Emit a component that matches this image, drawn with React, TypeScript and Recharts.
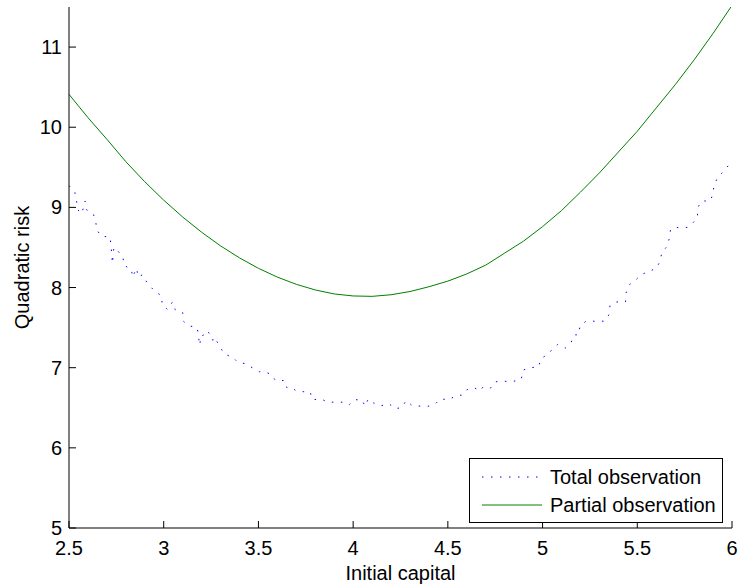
import React from "react";
import { LineChart, Line, XAxis, YAxis, Legend } from "recharts";

const FONT = '"Liberation Sans", Arial, Helvetica, sans-serif';
const FS = 20;

const xTicks = [2.5, 3, 3.5, 4, 4.5, 5, 5.5, 6];
const yTicks = [5, 6, 7, 8, 9, 10, 11];

// Partial observation (smooth curve)
const partialX = [
  2.5, 2.6, 2.7, 2.8, 2.9, 3.0, 3.1, 3.2, 3.3, 3.4, 3.5, 3.6, 3.7, 3.8, 3.9, 4.0, 4.1, 4.2,
  4.3, 4.4, 4.5, 4.6, 4.7, 4.8, 4.9, 5.0, 5.1, 5.2, 5.3, 5.4, 5.5, 5.6, 5.7, 5.8, 5.9, 6.0,
];
const partialY = [
  10.41, 10.12, 9.85, 9.57, 9.32, 9.09, 8.88, 8.69, 8.52, 8.37, 8.24, 8.13, 8.04, 7.97, 7.92,
  7.895, 7.89, 7.91, 7.95, 8.01, 8.08, 8.17, 8.28, 8.43, 8.58, 8.76, 8.96, 9.19, 9.43, 9.69,
  9.95, 10.24, 10.53, 10.84, 11.17, 11.52,
];

// Total observation (noisy curve)
const totalX = [
  2.5, 2.53, 2.54, 2.545, 2.566, 2.58, 2.585, 2.593, 2.628, 2.64, 2.647, 2.67, 2.717, 2.722,
  2.726, 2.729, 2.737, 2.76, 2.785, 2.79, 2.83, 2.835, 2.857, 2.865, 2.888, 2.91, 2.93, 2.96,
  2.988, 2.992, 3.02, 3.046, 3.06, 3.1, 3.104, 3.13, 3.177, 3.19, 3.196, 3.2, 3.22, 3.256,
  3.262, 3.28, 3.32, 3.365, 3.39, 3.43, 3.467, 3.505, 3.527, 3.567, 3.59, 3.638, 3.65, 3.676,
  3.7, 3.74, 3.773, 3.785, 3.83, 3.867, 3.917, 3.963, 3.98, 4.005, 4.046, 4.063, 4.08, 4.108,
  4.147, 4.19, 4.22, 4.256, 4.28, 4.31, 4.355, 4.4, 4.435, 4.46, 4.507, 4.54, 4.58, 4.607,
  4.643, 4.67, 4.686, 4.725, 4.75, 4.8, 4.845, 4.887, 4.897, 4.935, 4.98, 4.99, 5.03, 5.055,
  5.08, 5.12, 5.15, 5.167, 5.19, 5.198, 5.23, 5.28, 5.328, 5.35, 5.356, 5.39, 5.438, 5.44,
  5.46, 5.49, 5.52, 5.56, 5.6, 5.62, 5.63, 5.656, 5.67, 5.676, 5.716, 5.765, 5.795, 5.817,
  5.82, 5.84, 5.885, 5.9, 5.905, 5.926, 5.957, 5.98, 6.0,
];
const totalY = [
  9.27, 9.2, 9.08, 8.975, 8.92, 9.02, 9.08, 8.97, 8.92, 8.84, 8.72, 8.64, 8.63, 8.52, 8.4,
  8.3, 8.5, 8.45, 8.38, 8.275, 8.23, 8.13, 8.24, 8.13, 8.16, 8.07, 8.01, 7.94, 7.9, 7.79,
  7.725, 7.82, 7.725, 7.69, 7.58, 7.525, 7.5, 7.28, 7.38, 7.37, 7.46, 7.41, 7.3, 7.33, 7.17,
  7.13, 7.07, 7.05, 7.0, 6.95, 6.95, 6.92, 6.84, 6.84, 6.75, 6.75, 6.71, 6.7, 6.7, 6.6, 6.61,
  6.57, 6.57, 6.57, 6.54, 6.6, 6.6, 6.52, 6.61, 6.56, 6.525, 6.55, 6.49, 6.5, 6.59, 6.53,
  6.52, 6.52, 6.55, 6.61, 6.6, 6.65, 6.66, 6.74, 6.745, 6.71, 6.76, 6.745, 6.825, 6.83, 6.83,
  6.85, 6.97, 7.0, 7.01, 7.11, 7.17, 7.24, 7.29, 7.245, 7.31, 7.41, 7.41, 7.525, 7.58, 7.58,
  7.58, 7.66, 7.775, 7.82, 7.82, 7.93, 8.04, 8.09, 8.16, 8.2, 8.24, 8.325, 8.44, 8.51, 8.62,
  8.73, 8.75, 8.75, 8.81, 8.87, 9.0, 9.08, 9.08, 9.17, 9.28, 9.38, 9.45, 9.52, 9.55,
];

const partialData = partialX.map((x, i) => ({ x, y: partialY[i] }));
const totalData = totalX.map((x, i) => ({ x, y: totalY[i] }));

const BLUE = "#0000ff";
const GREEN = "#008000";
const DOTS = "1.5 7.5";

const textProps = { fontFamily: FONT, fontSize: FS, fill: "#000" };

function BottomTick({ x, y, payload }: any) {
  return (
    <g>
      <line x1={x} x2={x} y1={y} y2={y - 7} stroke="#000" />
      <text x={x} y={y + 20} textAnchor="middle" dominantBaseline="central" {...textProps}>
        {payload.value}
      </text>
    </g>
  );
}

function TopTick({ x, y }: any) {
  return <line x1={x} x2={x} y1={y} y2={y + 7} stroke="#000" />;
}

function LeftTick({ x, y, payload }: any) {
  return (
    <g>
      <line x1={x} x2={x + 7} y1={y} y2={y} stroke="#000" />
      <text x={x - 7} y={y} textAnchor="end" dominantBaseline="central" {...textProps}>
        {payload.value}
      </text>
    </g>
  );
}

function RightTick({ x, y }: any) {
  return <line x1={x} x2={x - 7} y1={y} y2={y} stroke="#000" />;
}

function LegendBox() {
  const rows = [
    { name: "Total observation", color: BLUE, dash: DOTS },
    { name: "Partial observation", color: GREEN, dash: undefined },
  ];
  return (
    <div
      style={{
        width: 254,
        height: 65,
        boxSizing: "border-box",
        border: "1px solid #000",
        background: "#fff",
        padding: "4px 0 0 12px",
        fontFamily: FONT,
        fontSize: FS,
        color: "#000",
      }}
    >
      {rows.map((r) => (
        <div key={r.name} style={{ display: "flex", alignItems: "center", height: 28 }}>
          <svg width={60} height={10} style={{ marginRight: 8 }}>
            <line x1={0} x2={60} y1={5} y2={5} stroke={r.color} strokeDasharray={r.dash} />
          </svg>
          <span style={{ lineHeight: "28px" }}>{r.name}</span>
        </div>
      ))}
    </div>
  );
}

export default function App() {
  return (
    <div style={{ position: "absolute", left: 0, top: 0, width: 740, height: 585, background: "#fff" }}>
      <LineChart width={740} height={585} margin={{ top: 7, right: 8, bottom: 0, left: 0 }}>
        <XAxis
          dataKey="x"
          type="number"
          domain={[2.5, 6]}
          ticks={xTicks}
          height={57}
          tickSize={0}
          tickMargin={0}
          tickLine={false}
          axisLine={{ stroke: "#000" }}
          tick={(p: any) => <BottomTick {...p} />}
          interval={0}
          label={{
            content: ({ viewBox }: any) => (
              <text
                x={viewBox.x + viewBox.width / 2}
                y={viewBox.y + 45}
                textAnchor="middle"
                dominantBaseline="central"
                {...textProps}
              >
                Initial capital
              </text>
            ),
          }}
        />
        <XAxis
          xAxisId="top"
          orientation="top"
          type="number"
          domain={[2.5, 6]}
          ticks={xTicks}
          height={0}
          tickSize={0}
          tickMargin={0}
          tickLine={false}
          axisLine={{ stroke: "#000" }}
          tick={(p: any) => <TopTick {...p} />}
          interval={0}
        />
        <YAxis
          type="number"
          domain={[5, 11.5]}
          ticks={yTicks}
          width={69}
          tickSize={0}
          tickMargin={0}
          tickLine={false}
          axisLine={{ stroke: "#000" }}
          tick={(p: any) => <LeftTick {...p} />}
          interval={0}
          allowDataOverflow
          label={{
            content: ({ viewBox }: any) => {
              const cx = viewBox.x + 22;
              const cy = viewBox.y + viewBox.height / 2;
              return (
                <text
                  x={cx}
                  y={cy}
                  textAnchor="middle"
                  dominantBaseline="central"
                  transform={`rotate(-90, ${cx}, ${cy})`}
                  {...textProps}
                >
                  Quadratic risk
                </text>
              );
            },
          }}
        />
        <YAxis
          yAxisId="right"
          orientation="right"
          type="number"
          domain={[5, 11.5]}
          ticks={yTicks}
          width={0}
          tickSize={0}
          tickMargin={0}
          tickLine={false}
          axisLine={{ stroke: "#000" }}
          tick={(p: any) => <RightTick {...p} />}
          interval={0}
        />
        <Line
          data={totalData}
          dataKey="y"
          name="Total observation"
          type="linear"
          stroke={BLUE}
          strokeWidth={1}
          strokeDasharray={DOTS}
          dot={false}
          activeDot={false}
          isAnimationActive={false}
        />
        <Line
          data={partialData}
          dataKey="y"
          name="Partial observation"
          type="linear"
          stroke={GREEN}
          strokeWidth={1}
          dot={false}
          activeDot={false}
          isAnimationActive={false}
        />
        <Legend
          layout="vertical"
          align="center"
          verticalAlign="middle"
          content={() => <LegendBox />}
          wrapperStyle={{ left: 469, top: 458, width: 254, height: 65, bottom: "auto", right: "auto" }}
        />
      </LineChart>
    </div>
  );
}
